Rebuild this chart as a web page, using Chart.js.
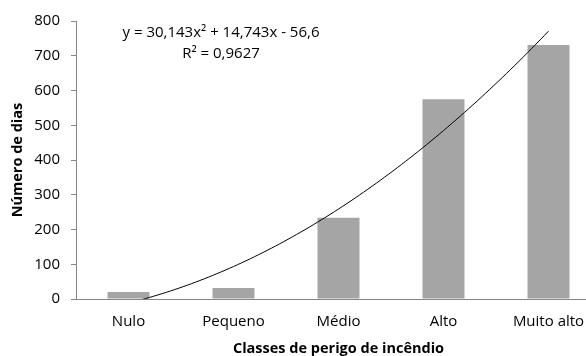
<!DOCTYPE html>
<html>
<head>
<meta charset="utf-8">
<script src="https://cdn.jsdelivr.net/npm/chart.js@4"></script>
<style>
  html, body { margin: 0; padding: 0; background: #fff; overflow: hidden; width: 586px; height: 356px; }
  canvas { display: block; }
</style>
</head>
<body>
<canvas id="chart" width="620" height="356"></canvas>
<script>
// Number of days per fire-danger class
const categories = ['Nulo', 'Pequeno', 'Médio', 'Alto', 'Muito alto'];
const diasPorClasse = [20, 32, 234, 575, 731];
const yTickValues = [0, 100, 200, 300, 400, 500, 600, 700, 800];

// Second-order polynomial trendline: y = a·x² + b·x + c (x = class number 1..5)
const trendCoefficients = [30.143, 14.743, -56.6];
const trendR2 = 0.9627;

const fmt = v => String(v).replace('.', ',');
const [ta, tb, tc] = trendCoefficients;
const equationText = 'y = ' + fmt(ta) + 'x² + ' + fmt(tb) + 'x - ' + fmt(Math.abs(tc));
const r2Text = 'R² = ' + fmt(trendR2);

// Sample the trendline across the class range
const trendPoints = [];
for (let i = 0; i <= 100; i++) {
  const x = 1 + i * 0.04;
  trendPoints.push({ x: x, y: ta * x * x + tb * x + tc });
}

const FONT = "'Open Sans', sans-serif";
Chart.defaults.font.family = FONT;
Chart.defaults.color = '#000';

const AXIS_GRAY = '#868686';

const equationLabel = {
  id: 'equationLabel',
  afterDatasetsDraw(chart) {
    const { ctx, chartArea } = chart;
    const cx = chartArea.left + 145;
    ctx.save();
    ctx.font = '15px ' + FONT;
    ctx.fillStyle = '#000';
    ctx.textAlign = 'center';
    ctx.textBaseline = 'middle';
    ctx.fillText(equationText, cx, chartArea.top + 12);
    ctx.fillText(r2Text, cx, chartArea.top + 33);
    ctx.restore();
  }
};

new Chart(document.getElementById('chart'), {
  type: 'bar',
  data: {
    labels: categories,
    datasets: [
      {
        type: 'bar',
        data: diasPorClasse,
        backgroundColor: '#a5a5a5',
        borderWidth: 0,
        grouped: false,
        categoryPercentage: 1,
        barPercentage: 0.4,
        xAxisID: 'x',
        order: 2
      },
      {
        type: 'line',
        data: trendPoints,
        xAxisID: 'xt',
        borderColor: '#000',
        borderWidth: 1,
        pointRadius: 0,
        fill: false,
        tension: 0,
        order: 1
      }
    ]
  },
  options: {
    responsive: false,
    animation: false,
    layout: { padding: { left: 0, right: 19, top: 21, bottom: 0 } },
    plugins: {
      legend: { display: false },
      tooltip: { enabled: false }
    },
    scales: {
      x: {
        type: 'category',
        offset: true,
        grid: { display: false, drawTicks: false },
        border: { display: true, color: AXIS_GRAY, width: 1 },
        ticks: { padding: 14, font: { size: 15 }, color: '#000', maxRotation: 0 },
        title: {
          display: true,
          text: 'Classes de perigo de incêndio',
          font: { size: 14.5, weight: 'bold', lineHeight: 1 },
          color: '#000',
          padding: { top: 0, bottom: 0 }
        },
        afterFit(scale) { scale.height = 57; }
      },
      xt: {
        type: 'linear',
        display: false,
        offset: false,
        min: 0.5,
        max: 5.5
      },
      y: {
        min: 0,
        max: 800,
        afterBuildTicks(scale) { scale.ticks = yTickValues.map(v => ({ value: v })); },
        grid: { display: true, drawOnChartArea: false, drawTicks: true, tickLength: 5, color: AXIS_GRAY },
        border: { display: true, color: AXIS_GRAY, width: 1 },
        ticks: { padding: 11, font: { size: 15 }, color: '#000' },
        title: {
          display: true,
          text: 'Número de dias',
          font: { size: 14.5, weight: 'bold', lineHeight: 1 },
          color: '#000',
          padding: { top: 11, bottom: 0 }
        },
        afterFit(scale) { scale.width = 76; }
      }
    }
  },
  plugins: [equationLabel]
});
</script>
</body>
</html>
